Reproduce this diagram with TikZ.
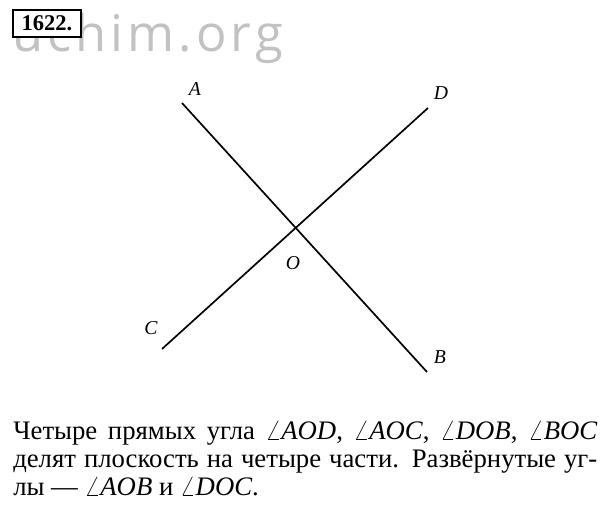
\documentclass[tikz,border=0pt]{standalone}
\usepackage{fontspec}
\setmainfont{Liberation Serif}
\newfontfamily\markfont[LetterSpace=8]{Open Sans}
\usepackage{amsmath}
\usepackage{xcolor}

\begin{document}
\begin{tikzpicture}[x=0.025cm, y=-0.025cm,
                line/.style={line width=1.2pt},
                pointlabel/.style={font=\fontsize{14}{14}\selectfont\itshape, inner sep=0pt},
              ]
              \useasboundingbox (0,0) rectangle (600,506);
              % watermark
              \node[anchor=base west, inner sep=0pt, text=black!24,
                    font=\fontsize{36}{36}\selectfont\markfont] (mark) at (12,51) {uchim.org};
              % number box
              \node[draw, line width=1.4pt, fill=white, inner sep=0pt,
                    minimum width=68*0.025cm, minimum height=27*0.025cm,
                    font=\fontsize{16}{16}\selectfont\bfseries] (num) at (47,23.5) {1622.};
              % points
              \coordinate (A) at (182,103);
              \coordinate (B) at (427,372);
              \coordinate (C) at (162,349);
              \coordinate (D) at (428,108);
              \coordinate (O) at (296,227);
              \draw[line] (A) -- (B);
              \draw[line] (C) -- (D);
              \node[pointlabel] (lA) at (195,89) {A};
              \node[pointlabel] (lB) at (440,357) {B};
              \node[pointlabel] (lC) at (151,328) {C};
              \node[pointlabel] (lD) at (441,93) {D};
              \node[pointlabel] (lO) at (293,263) {O};
              % text
              \node[anchor=north west, inner sep=0pt, text width=584*0.025cm, align=justify,
                    font=\fontsize{19}{19.9}\selectfont] (txt) at (13,421)
                {Четыре прямых угла $\angle$\textit{AOD}, $\angle$\textit{AOC}, $\angle$\textit{DOB}, $\angle$\textit{BOC}
                 делят плоскость на четыре части. Развёрнутые уг-\linebreak
                 лы~--- $\angle$\textit{AOB} и $\angle$\textit{DOC}.};
              \end{tikzpicture}
\end{document}
